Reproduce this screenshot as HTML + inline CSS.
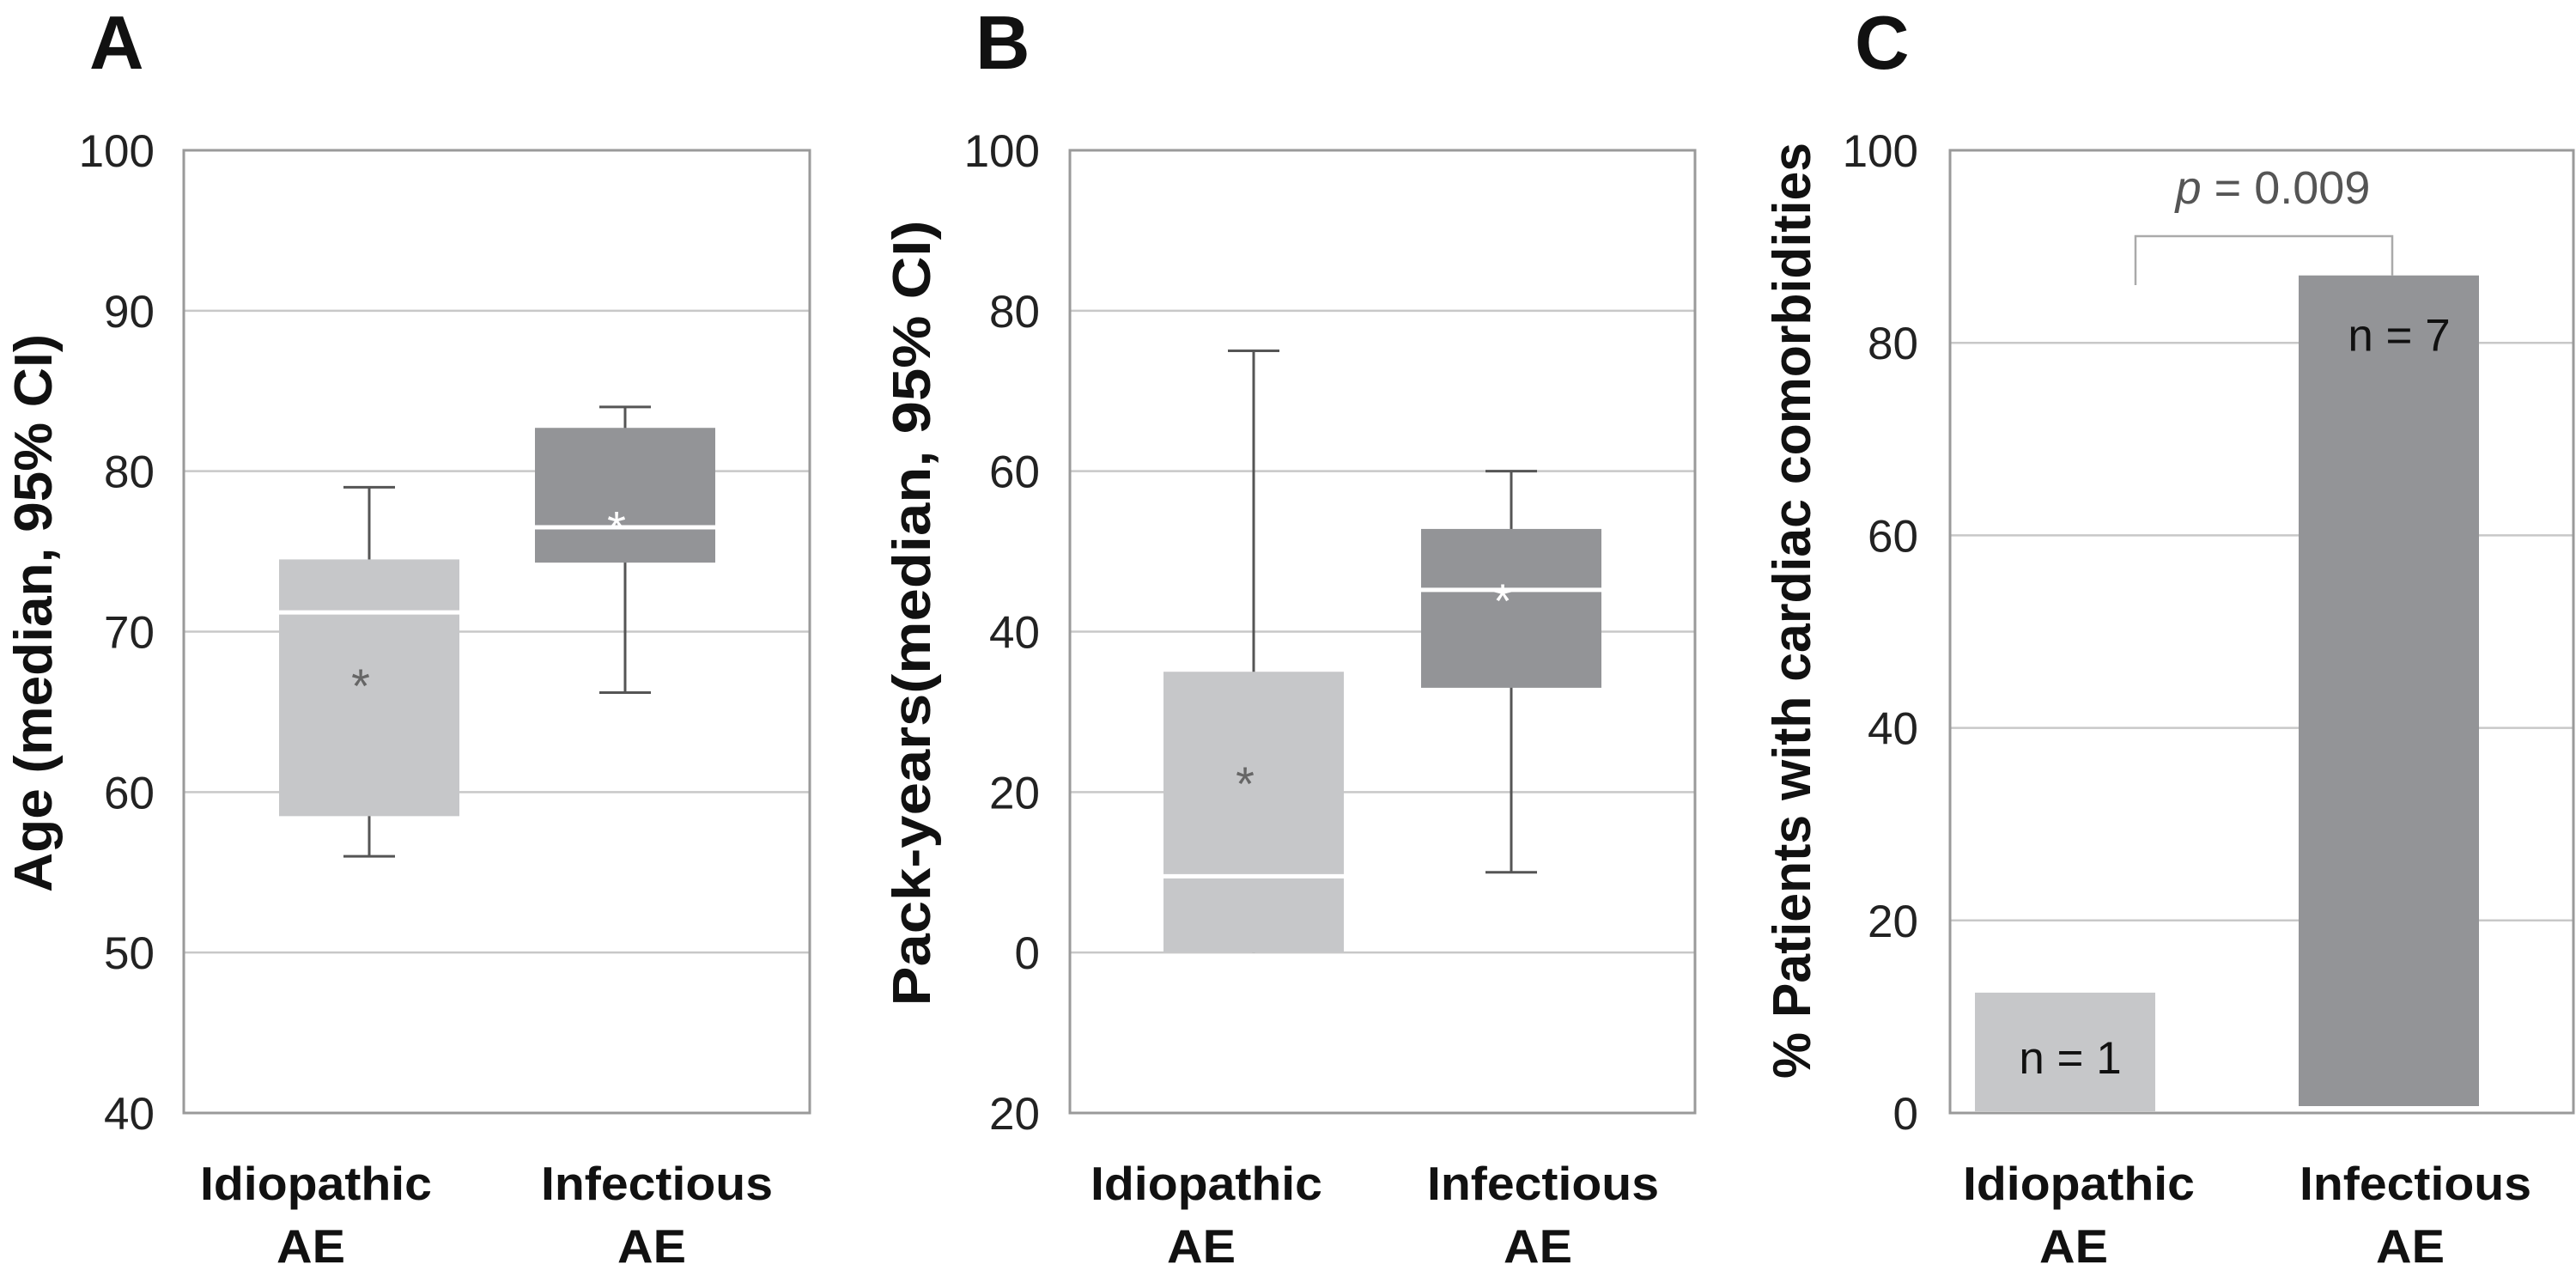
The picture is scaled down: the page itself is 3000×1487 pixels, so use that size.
<!DOCTYPE html>
<html><head><meta charset="utf-8"><style>
html,body{margin:0;padding:0;background:#fff;}
svg{display:block;font-family:"Liberation Sans",Arial,sans-serif;}
</style></head><body>
<svg id="fig" width="3000" height="1487" viewBox="0 0 3000 1487" xmlns="http://www.w3.org/2000/svg"></svg>
<script>
// Panel A data (Age)
const groups = ["Idiopathic", "Infectious"];
const ageQ1 = [58.5, 74.3];
const ageMedian = [71.2, 76.5];
const ageQ3 = [74.5, 82.7];
const ageLow = [56, 66.2];
const ageHigh = [79, 84];
const ageMean = [67.2, 77];
const ageTicks = [40, 50, 60, 70, 80, 90, 100];
const ageTickLabels = ["40", "50", "60", "70", "80", "90", "100"];
// Panel B data (Pack-years)
const pyQ1 = [0, 33];
const pyMedian = [9.5, 45.2];
const pyQ3 = [35, 52.8];
const pyLow = [0, 10];
const pyHigh = [75, 60];
const pyMean = [22.2, 45];
const pyTicks = [-20, 0, 20, 40, 60, 80, 100];
const pyTickLabels = ["20", "0", "20", "40", "60", "80", "100"];
// Panel C data (cardiac comorbidities %)
const cardPct = [12.5, 87];
const cardN = ["n = 1", "n = 7"];
const cardTicks = [0, 20, 40, 60, 80, 100];
const cardTickLabels = ["0", "20", "40", "60", "80", "100"];
const pValue = "0.009";

const NS = "http://www.w3.org/2000/svg";
const svg = document.getElementById("fig");
function mk(tag, attrs, parent, text) {
  const e = document.createElementNS(NS, tag);
  for (const k in attrs) e.setAttribute(k, attrs[k]);
  if (text !== undefined) e.textContent = text;
  (parent || svg).appendChild(e);
  return e;
}
const TOP = 175, BOT = 1296;
const FILL = ["#c6c7c9", "#939497"];
const MEANCOL = ["#666", "#fff"];

function panel(opt) {
  const g = mk("g", {});
  
  
  const y = v => BOT - (v - opt.min) / (opt.max - opt.min) * (BOT - TOP);
  const L = mk("text", {x: opt.letterX, y: 80, "font-size": 88, "font-weight": "bold", fill: "#111"}, g, opt.letter);
  
  
  opt.ticks.forEach((t, i) => {
    if (t !== opt.min && t !== opt.max) {
      const gl = mk("line", {x1: opt.x0, x2: opt.x1, y1: y(t), y2: y(t), stroke: "#c8c8c8", "stroke-width": 2.5}, g);
      
      
    }
    const tl = mk("text", {x: opt.tickX, y: y(t) + 19, "text-anchor": "end", "font-size": 53, fill: "#222"}, g, opt.tickLabels[i]);
    
    
  });
  const fr = mk("rect", {x: opt.x0, y: TOP, width: opt.x1 - opt.x0, height: BOT - TOP, fill: "none", stroke: "#9a9a9a", "stroke-width": 3}, g);
  
  
  const yt = mk("text", {x: 0, y: 0, transform: `translate(${opt.titleX},${opt.titleY}) rotate(-90)`, "text-anchor": "middle", "font-size": 62, "font-weight": "bold", fill: "#111", textLength: opt.titleLen, lengthAdjust: "spacingAndGlyphs"}, g, opt.title);
  
  
  groups.forEach((name, i) => {
    const cx = opt.labelX[i];
    const t1 = mk("text", {x: cx, y: 1397, "text-anchor": "middle", "font-size": 55, "font-weight": "bold", fill: "#111", textLength: 270, lengthAdjust: "spacingAndGlyphs"}, g, name);
    
    
    const t2 = mk("text", {x: cx - 6, y: 1470, "text-anchor": "middle", "font-size": 55, "font-weight": "bold", fill: "#111", textLength: 80, lengthAdjust: "spacingAndGlyphs"}, g, "AE");
    
    
  });
  return {g, y};
}

function boxes(p, opt, q1, med, q3, lo, hi, mean) {
  groups.forEach((nm, i) => {
    const bx = opt.boxX[i], bw = 210, cx = bx + bw / 2;
    const y = p.y;
    const w1 = mk("line", {x1: cx, x2: cx, y1: y(hi[i]), y2: y(lo[i]), stroke: "#555", "stroke-width": 3}, p.g);
    
    
    [hi[i], lo[i]].forEach(v => {
      if (v === q1[i]) return;
      const c = mk("line", {x1: cx - 30, x2: cx + 30, y1: y(v), y2: y(v), stroke: "#555", "stroke-width": 3}, p.g);
      
      
    });
    const r = mk("rect", {x: bx, y: y(q3[i]), width: bw, height: y(q1[i]) - y(q3[i]), fill: FILL[i]}, p.g);
    
    
    const m = mk("line", {x1: bx, x2: bx + bw, y1: y(med[i]), y2: y(med[i]), stroke: "#fff", "stroke-width": 5}, p.g);
    
    
    const s = mk("text", {x: cx - 10, y: y(mean[i]) + 30, "text-anchor": "middle", "font-size": 56, fill: MEANCOL[i]}, p.g, "*");
    
    
  });
}

const optA = {name: "panel-a", letter: "A", letterX: 104, min: 40, max: 100, ticks: ageTicks, tickLabels: ageTickLabels,
  x0: 214, x1: 943, tickX: 180, title: "Age (median, 95% CI)", titleX: 60, titleY: 714, titleLen: 650,
  labelX: [368, 765], boxX: [325, 623]};
const pA = panel(optA);
boxes(pA, optA, ageQ1, ageMedian, ageQ3, ageLow, ageHigh, ageMean);

const optB = {name: "panel-b", letter: "B", letterX: 1136, min: -20, max: 100, ticks: pyTicks, tickLabels: pyTickLabels,
  x0: 1246, x1: 1974, tickX: 1211, title: "Pack-years(median, 95% CI)", titleX: 1083, titleY: 714, titleLen: 915,
  labelX: [1405, 1797], boxX: [1355, 1655]};
const pB = panel(optB);
boxes(pB, optB, pyQ1, pyMedian, pyQ3, pyLow, pyHigh, pyMean);

const optC = {name: "panel-c", letter: "C", letterX: 2160, min: 0, max: 100, ticks: cardTicks, tickLabels: cardTickLabels,
  x0: 2271, x1: 2997, tickX: 2234, title: "% Patients with cardiac comorbidities", titleX: 2108, titleY: 711, titleLen: 1090,
  labelX: [2421, 2813], boxX: [2300, 2677]};
const pC = panel(optC);
const barX = [2300, 2677];
groups.forEach((nm, i) => {
  const yTop = pC.y(cardPct[i]);
  const yB = i === 1 ? BOT - 8 : BOT - 2;
  const b = mk("rect", {x: barX[i], y: yTop, width: 210, height: yB - yTop, fill: FILL[i]}, pC.g);
  
  
  const ty = i === 0 ? 1250 : yTop + 88;
  const n = mk("text", {x: i === 0 ? 2411 : 2794, y: ty, "text-anchor": "middle", "font-size": 53, fill: "#111"}, pC.g, cardN[i]);
  
  
});
const br = mk("polyline", {points: `2487,${pC.y(86)} 2487,275 2786,275 2786,${pC.y(cardPct[1])}`, fill: "none", stroke: "#aaa", "stroke-width": 2.5}, pC.g);


const pt = mk("text", {x: 2647, y: 237, "text-anchor": "middle", "font-size": 54, fill: "#555"}, pC.g);


mk("tspan", {"font-style": "italic"}, pt, "p");
mk("tspan", {}, pt, " = " + pValue);
</script>
</body></html>
